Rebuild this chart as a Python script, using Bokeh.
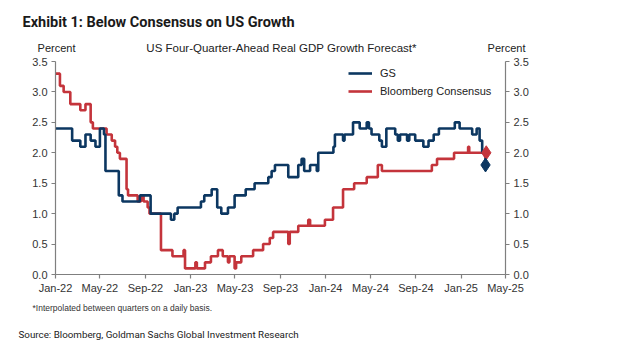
import pandas as pd
from bokeh.plotting import figure
from bokeh.models import (Range1d, LinearAxis, FixedTicker, DatetimeTickFormatter,
                          Legend, LegendItem, ColumnDataSource, CustomJSTickFormatter)
from bokeh.core.properties import value
from bokeh.embed import file_html
from bokeh.resources import INLINE

# ---------------- data ----------------
gs_dates = ["2022-01-01", "2022-02-15", "2022-03-09", "2022-03-23", "2022-04-06", "2022-04-19",
            "2022-05-01", "2022-05-12", "2022-05-16", "2022-06-21", "2022-07-01", "2022-08-17",
            "2022-09-15", "2022-11-09", "2022-11-18", "2022-11-27", "2023-01-29", "2023-02-07",
            "2023-02-27", "2023-03-14", "2023-03-25", "2023-04-12", "2023-04-30", "2023-05-30",
            "2023-06-23", "2023-07-30", "2023-08-08", "2023-08-17", "2023-09-22", "2023-10-19",
            "2023-10-28", "2023-11-04", "2023-11-20", "2023-12-08", "2023-12-12", "2024-01-22",
            "2024-01-26", "2024-02-17", "2024-02-21", "2024-03-15", "2024-04-02", "2024-04-21",
            "2024-04-27", "2024-05-04", "2024-05-25", "2024-06-01", "2024-06-13", "2024-07-07",
            "2024-07-14", "2024-07-20", "2024-08-08", "2024-08-14", "2024-08-30", "2024-09-21",
            "2024-10-05", "2024-10-19", "2024-11-02", "2024-12-15", "2024-12-28", "2025-01-31",
            "2025-02-12", "2025-02-20", "2025-02-27", "2025-03-08"]
gs_values = [2.4, 2.2, 2.1, 2.3, 2.2, 2.1,
             2.4, 2.3, 1.7, 1.3, 1.2, 1.3,
             1.0, 0.9, 1.0, 1.1, 1.2, 1.3,
             1.4, 1.1, 1.0, 1.1, 1.3, 1.4,
             1.5, 1.6, 1.7, 1.8, 1.6, 1.8,
             1.9, 1.7, 1.8, 1.7, 2.0, 2.1,
             2.3, 2.2, 2.3, 2.5, 2.4, 2.5,
             2.4, 2.3, 2.2, 2.1, 2.4, 2.3,
             2.2, 2.3, 2.2, 2.3, 2.2, 2.1,
             2.2, 2.3, 2.4, 2.5, 2.4, 2.3,
             2.4, 2.2, 2.0, 1.8]

bb_dates = ["2022-01-01", "2022-01-13", "2022-01-23", "2022-02-10", "2022-03-09", "2022-03-23",
            "2022-04-06", "2022-04-12", "2022-05-19", "2022-06-02", "2022-06-11", "2022-06-17",
            "2022-06-24", "2022-07-12", "2022-07-16", "2022-08-11", "2022-08-20", "2022-08-27",
            "2022-09-07", "2022-09-12", "2022-10-13", "2022-11-13", "2022-12-13", "2022-12-17",
            "2023-01-14", "2023-01-18", "2023-02-09", "2023-02-25", "2023-03-16", "2023-03-29",
            "2023-04-12", "2023-04-16", "2023-04-30", "2023-05-04", "2023-05-18", "2023-06-19",
            "2023-07-16", "2023-08-03", "2023-08-12", "2023-09-22", "2023-09-26", "2023-10-19",
            "2023-11-15", "2023-11-20", "2023-12-30", "2024-01-21", "2024-02-17", "2024-03-18",
            "2024-04-21", "2024-05-21", "2024-06-01", "2024-10-14", "2024-10-28", "2024-12-13",
            "2025-01-20", "2025-01-23", "2025-03-10"]
bb_values = [3.3, 3.1, 3.0, 2.8, 2.7, 2.8,
             2.5, 2.4, 2.3, 2.2, 2.1, 2.0,
             1.9, 1.4, 1.3, 1.2, 1.3, 1.2,
             1.1, 1.0, 0.4, 0.3, 0.4, 0.1,
             0.2, 0.1, 0.2, 0.3, 0.4, 0.3,
             0.2, 0.3, 0.1, 0.2, 0.3, 0.4,
             0.5, 0.6, 0.7, 0.5, 0.7, 0.8,
             0.9, 0.8, 0.9, 1.1, 1.4, 1.5,
             1.6, 1.8, 1.7, 1.8, 1.9, 2.0,
             2.1, 2.0, 2.0]

gs_last_date, gs_last_value = "2025-03-08", 1.8
bb_last_date, bb_last_value = "2025-03-10", 2.0

x_ticks = ["2022-01-01", "2022-05-01", "2022-09-01", "2023-01-01", "2023-05-01", "2023-09-01",
           "2024-01-01", "2024-05-01", "2024-09-01", "2025-01-01", "2025-05-01"]
y_ticks = [0.0, 0.5, 1.0, 1.5, 2.0, 2.5, 3.0, 3.5]

title_text = "Exhibit 1: Below Consensus on US Growth"
chart_title = "US Four-Quarter-Ahead Real GDP Growth Forecast*"
unit_text = "Percent"
footnote = "*Interpolated between quarters on a daily basis."
source = "Source: Bloomberg, Goldman Sachs Global Investment Research"

NAVY = "#0c3761"
RED = "#c4343b"
AXIS = "#7f7f7f"
FONT = "Liberation Sans"
HEADFONT = "Roboto"
W = 608


def text_panel(height):
    f = figure(width=W, height=height, x_range=Range1d(0, W), y_range=Range1d(height, 0),
               min_border=0, output_backend="svg", toolbar_location=None,
               x_axis_location=None, y_axis_location=None)
    f.outline_line_color = None
    f.xgrid.visible = False
    f.ygrid.visible = False
    return f


def put(f, txt, px, py, size, font=FONT, style="normal", align="left", color="#222222"):
    f.text(x=[px], y=[py], text=[txt], text_font=value(font), text_font_size=size,
           text_font_style=style, text_align=align, text_baseline="middle", text_color=color)


# ---------------- header ----------------
HEAD = 54
header = text_panel(HEAD)
put(header, title_text, 22, 22, "14.5px", font=HEADFONT, style="bold", color="#1a1a1a")
put(header, chart_title, 281, 47, "11.5px", align="center")
put(header, unit_text, 56, 47, "11px", align="center")
put(header, unit_text, 506, 47, "11px", align="center")

# ---------------- main chart ----------------
x0 = pd.Timestamp("2022-01-01")
x1 = pd.Timestamp("2025-05-01")
p = figure(frame_width=450, frame_height=213, x_axis_type="datetime",
           x_range=Range1d(x0, x1), y_range=Range1d(0, 3.5),
           output_backend="svg", toolbar_location=None,
           min_border_left=55, min_border_right=W - 55 - 450, min_border_top=7, min_border_bottom=22)
p.outline_line_color = None
p.xgrid.visible = False
p.ygrid.visible = False

right = LinearAxis()
p.add_layout(right, "right")

for ax in [p.xaxis[0], p.yaxis[0], right]:
    ax.axis_line_color = AXIS
    ax.axis_line_width = 1.2
    ax.major_tick_line_color = AXIS
    ax.major_tick_line_width = 1.2
    ax.major_tick_out = 4
    ax.major_tick_in = 0
    ax.minor_tick_line_color = None
    ax.major_label_text_font = FONT
    ax.major_label_text_font_size = "11px"
    ax.major_label_text_color = "#333333"

p.xaxis[0].ticker = FixedTicker(ticks=[pd.Timestamp(t).value / 1e6 for t in x_ticks])
p.xaxis[0].formatter = DatetimeTickFormatter(days="%b-%y", months="%b-%y", years="%b-%y")
p.xaxis[0].major_label_standoff = 3
fmt = CustomJSTickFormatter(code="return tick.toFixed(1);")
for ax in [p.yaxis[0], right]:
    ax.ticker = FixedTicker(ticks=y_ticks)
    ax.formatter = fmt
    ax.major_label_standoff = 4

gs_src = ColumnDataSource(dict(x=pd.to_datetime(gs_dates), y=gs_values))
bb_src = ColumnDataSource(dict(x=pd.to_datetime(bb_dates), y=bb_values))

r_bb = p.step("x", "y", source=bb_src, mode="after", line_color=RED, line_width=2.6)
r_gs = p.step("x", "y", source=gs_src, mode="after", line_color=NAVY, line_width=2.6)
p.scatter([pd.Timestamp(bb_last_date)], [bb_last_value], marker="diamond", size=14,
          fill_color=RED, line_color=RED)
p.scatter([pd.Timestamp(gs_last_date)], [gs_last_value], marker="diamond", size=14,
          fill_color=NAVY, line_color=NAVY)

legend = Legend(items=[LegendItem(label="GS", renderers=[r_gs]),
                       LegendItem(label="Bloomberg Consensus", renderers=[r_bb])],
                location=(293, 174))
legend.background_fill_alpha = 0
legend.border_line_alpha = 0
legend.padding = 0
legend.margin = 0
legend.spacing = 0
legend.glyph_width = 24
legend.glyph_height = 18
legend.label_height = 18
legend.label_standoff = 8
legend.label_text_font = FONT
legend.label_text_font_size = "11px"
legend.label_text_color = "#222222"
p.add_layout(legend, "center")

# ---------------- footer ----------------
FOOT_TOP = HEAD + 7 + 213 + 22
footer = text_panel(55)
put(footer, footnote, 32, 307 - FOOT_TOP, "8.5px", color="#333333")
put(footer, source, 18, 334 - FOOT_TOP, "9.8px", font=HEADFONT, color="#222222")

# separate roots, stacked in the page (avoids frame alignment between plots)
open("out.html", "w").write(file_html([header, p, footer], INLINE))
